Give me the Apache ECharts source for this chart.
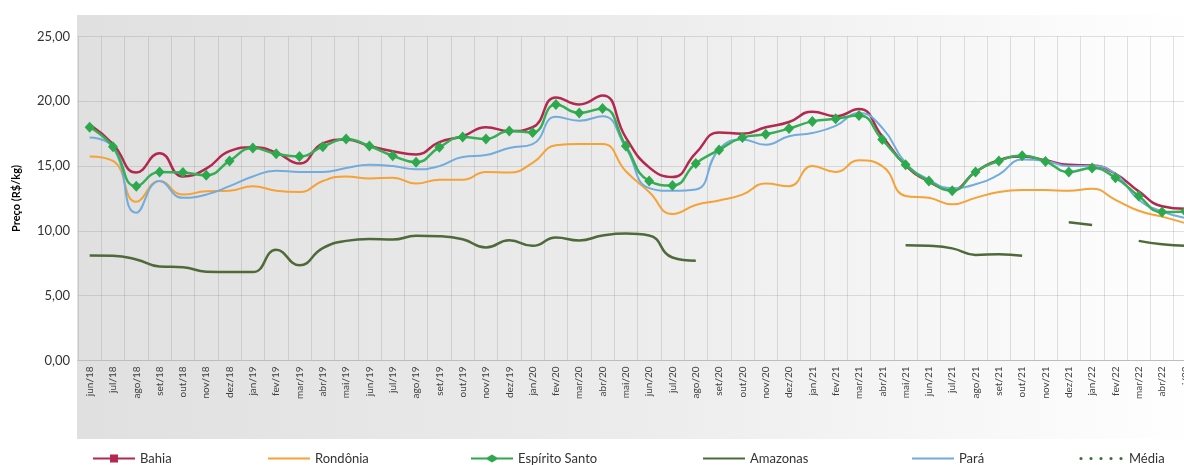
<!DOCTYPE html>
<html>
<head>
<meta charset="utf-8">
<title>Preço (R$/kg)</title>
<script src="https://cdn.jsdelivr.net/npm/echarts@6/dist/echarts.min.js"></script>
<style>
  html, body { margin: 0; padding: 0; background: #fff; overflow: hidden; }
  /* a bit wider than the window: the last month is cut at the right edge like the original */
  #chart { width: 1200px; height: 465px; }
</style>
</head>
<body>
<div id="chart"></div>
<script>
const categories = [
  "jun/18", "jul/18", "ago/18", "set/18", "out/18", "nov/18", "dez/18",
  "jan/19", "fev/19", "mar/19", "abr/19", "mai/19", "jun/19", "jul/19", "ago/19", "set/19", "out/19", "nov/19", "dez/19",
  "jan/20", "fev/20", "mar/20", "abr/20", "mai/20", "jun/20", "jul/20", "ago/20", "set/20", "out/20", "nov/20", "dez/20",
  "jan/21", "fev/21", "mar/21", "abr/21", "mai/21", "jun/21", "jul/21", "ago/21", "set/21", "out/21", "nov/21", "dez/21",
  "jan/22", "fev/22", "mar/22", "abr/22", "mai/22"
];

const bahia = [
  18.2, 16.7, 14.5, 16.0, 14.2, 14.8, 16.15,
  16.45, 16.05, 15.2, 16.75, 17.05, 16.55, 16.15, 15.9, 16.85, 17.3, 18.0, 17.7,
  18.0, 20.3, 19.75, 20.45, 17.2, 14.9, 14.15, 16.0, 17.6, 17.5, 18.0, 18.4,
  19.2, 18.85, 19.4, 17.3, 15.05, 13.8, 13.2, 14.55, 15.45, 15.75, 15.45, 15.1,
  15.05, 14.4, 13.05, 11.9, 11.7
];

const rondonia = [
  15.75, 15.4, 12.25, 13.85, 12.8, 13.05, 13.1,
  13.45, 13.1, 13.0, 13.85, 14.2, 14.05, 14.1, 13.65, 13.95, 13.95, 14.55, 14.5,
  15.25, 16.6, 16.7, 16.7, 14.6, 13.0, 11.3, 12.0, 12.35, 12.8, 13.65, 13.45,
  15.0, 14.55, 15.45, 15.0, 12.7, 12.55, 12.05, 12.55, 13.0, 13.15, 13.15, 13.1,
  13.25, 12.4, 11.55, 11.1, 10.6
];

const espiritoSanto = [
  18.0, 16.5, 13.45, 14.55, 14.5, 14.3, 15.4,
  16.4, 15.95, 15.75, 16.5, 17.1, 16.55, 15.8, 15.3, 16.45, 17.25, 17.1, 17.7,
  17.6, 19.75, 19.1, 19.45, 16.55, 13.85, 13.5, 15.2, 16.25, 17.2, 17.45, 17.9,
  18.45, 18.65, 18.9, 17.05, 15.1, 13.85, 13.1, 14.55, 15.4, 15.8, 15.35, 14.55,
  14.85, 14.1, 12.7, 11.45, 11.5
];

const amazonas = [
  8.1, 8.08, 7.8, 7.25, 7.2, 6.85, 6.82,
  6.82, 8.54, 7.35, 8.67, 9.23, 9.38, 9.33, 9.62, 9.59, 9.36, 8.72, 9.28,
  8.85, 9.49, 9.26, 9.64, 9.79, 9.65, 7.95, 7.7, null, null, null, null,
  null, null, null, null, 8.9, 8.85, 8.65, 8.15, 8.2, 8.08, null, 10.67,
  10.46, null, 9.23, 8.97, 8.85
];

const para = [
  17.2, 16.45, 11.4, 13.85, 12.55, 12.8, 13.45,
  14.2, 14.65, 14.55, 14.55, 14.85, 15.1, 15.0, 14.75, 15.0, 15.7, 15.85, 16.4,
  16.7, 18.8, 18.5, 18.85, 16.4, 13.3, 13.1, 13.2, 16.3, 17.05, 16.65, 17.3,
  17.55, 18.1, 19.1, 17.95, 15.25, 13.95, 13.3, 13.6, 14.35, 15.5, 15.4, 15.0,
  15.0, 14.4, 12.4, 11.5, 11.0
];

// not drawn in the reference, only listed in the legend
const media = [];

const yTicks = { min: 0, max: 25, interval: 5 };

const fontFamily = "Lato, 'Open Sans', sans-serif";

const myCharts = echarts.init(document.getElementById("chart"));

// legend icons drawn as paths (line + marker), tiny specks fix the bounding box
const lineIcon = "path://M0,0h0.01v0.01zM42,8h-0.01v-0.01zM0,3H42V5H0Z";
const legendIcons = {
  "Bahia": "path://M0,3H17V0H25V3H42V5H25V8H17V5H0Z",
  "Rondônia": lineIcon,
  "Espírito Santo": "path://M0,3H16L21,0L26,3H42V5H26L21,8L16,5H0Z",
  "Amazonas": lineIcon,
  "Pará": lineIcon,
  "Média": "path://M0,0h0.01v0.01zM46,8h-0.01v-0.01z" +
    "M1.4,4a1.6,1.6 0 1,0 3.2,0a1.6,1.6 0 1,0 -3.2,0Z" +
    "M11.4,4a1.6,1.6 0 1,0 3.2,0a1.6,1.6 0 1,0 -3.2,0Z" +
    "M21.4,4a1.6,1.6 0 1,0 3.2,0a1.6,1.6 0 1,0 -3.2,0Z" +
    "M31.4,4a1.6,1.6 0 1,0 3.2,0a1.6,1.6 0 1,0 -3.2,0Z" +
    "M41.4,4a1.6,1.6 0 1,0 3.2,0a1.6,1.6 0 1,0 -3.2,0Z",
};

function legendItem(name, left, width) {
  return {
    data: [{ name: name, icon: legendIcons[name] }],
    left: left,
    top: 447,
    itemWidth: width,
    itemHeight: 8,
    selectedMode: false,
    itemStyle: { borderWidth: 0 },
    textStyle: { color: "#333", fontSize: 13, fontFamily: fontFamily },
  };
}

function lineSeries(name, data, color, width) {
  return {
    name: name,
    type: "line",
    data: data,
    smooth: true,
    symbol: "none",
    color: color,
    lineStyle: { color: color, width: width },
    connectNulls: false,
    z: 2,
  };
}

const esSeries = lineSeries("Espírito Santo", espiritoSanto, "#35AE55", 2.5);
esSeries.symbol = "diamond";
esSeries.symbolSize = [10, 11];
esSeries.showSymbol = true;
esSeries.itemStyle = { color: "#2DA84C" };
esSeries.z = 4;

const options = {
  backgroundColor: "#fff",
  animation: false,
  textStyle: { fontFamily: fontFamily },
  graphic: [
    {
      type: "rect",
      z: -10,
      silent: true,
      shape: { x: 77, y: 15, width: 1123, height: 424 },
      style: {
        fill: {
          type: "linear",
          x: 0, y: 0, x2: 1, y2: 0,
          colorStops: [
            { offset: 0, color: "#e0e0e0" },
            { offset: 0.5, color: "#ececec" },
            { offset: 1, color: "#ffffff" },
          ],
        },
      },
    },
  ],
  legend: [
    legendItem("Bahia", 88, 42),
    legendItem("Rondônia", 263, 42),
    legendItem("Espírito Santo", 466, 42),
    legendItem("Amazonas", 698, 42),
    legendItem("Pará", 907, 42),
    legendItem("Média", 1073, 46),
  ],
  grid: {
    left: 78,
    width: 1119,
    top: 36.5,
    height: 324,
  },
  xAxis: {
    type: "category",
    data: categories,
    boundaryGap: true,
    axisTick: { show: false },
    axisLine: { show: true, lineStyle: { color: "#bdbdbd", width: 1 } },
    axisLabel: {
      interval: 0,
      rotate: 90,
      fontSize: 10,
      color: "#404040",
      margin: 6,
      fontFamily: fontFamily,
    },
    splitLine: {
      show: true,
      interval: 0,
      lineStyle: { color: "rgba(110,110,110,0.2)", width: 1 },
    },
  },
  yAxis: {
    type: "value",
    min: yTicks.min,
    max: yTicks.max,
    interval: yTicks.interval,
    name: "Preço (R$/kg)",
    nameLocation: "middle",
    nameGap: 56,
    nameTextStyle: { fontSize: 11, fontWeight: "bold", color: "#000", fontFamily: fontFamily },
    axisLine: { show: false },
    axisTick: { show: false },
    axisLabel: {
      fontSize: 13,
      color: "#333",
      margin: 8,
      fontFamily: fontFamily,
      formatter: function (v) {
        return v.toFixed(2).replace(".", ",");
      },
    },
    splitLine: {
      show: true,
      lineStyle: { color: "rgba(110,110,110,0.2)", width: 1 },
    },
  },
  series: [
    lineSeries("Bahia", bahia, "#B3284F", 2.5),
    lineSeries("Rondônia", rondonia, "#F5A236", 2),
    esSeries,
    lineSeries("Amazonas", amazonas, "#4F6A3A", 2.5),
    lineSeries("Pará", para, "#72ACDD", 2),
    lineSeries("Média", media, "#3F6D38", 2),
  ],
};

myCharts.setOption(options, true);
</script>
</body>
</html>
